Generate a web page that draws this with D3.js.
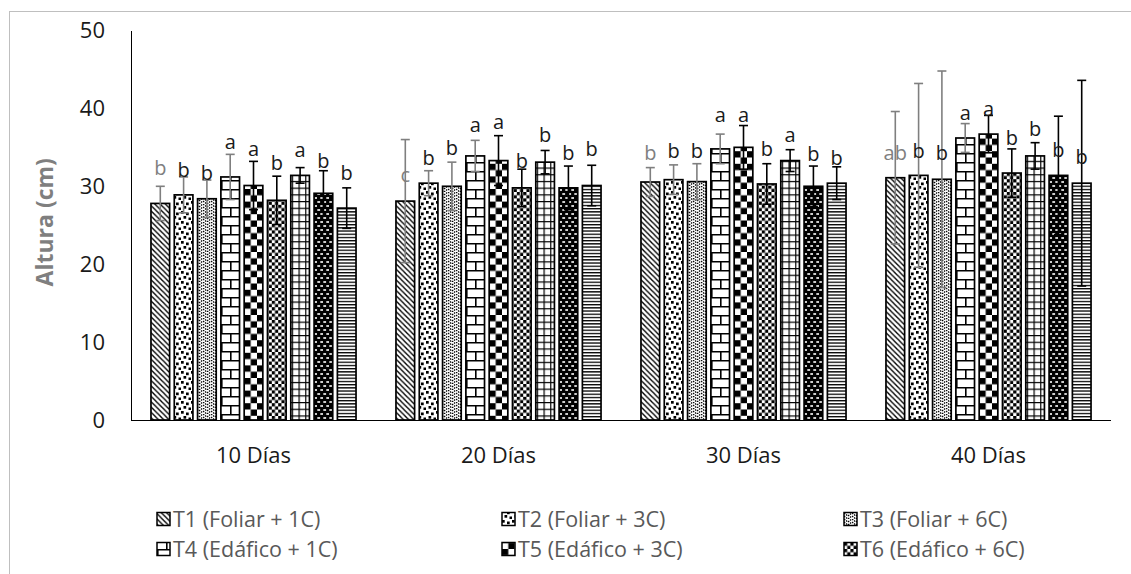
<!DOCTYPE html>
<html>
<head>
<meta charset="utf-8">
<script src="https://cdn.jsdelivr.net/npm/d3@7"></script>
<style>
  body { margin: 0; background: #fff; }
  svg { display: block; }
  text { font-family: "Open Sans", Lato, "Noto Sans", sans-serif; }
</style>
</head>
<body>
<svg id="chart" width="1131" height="574"></svg>
<script>
// Sampling dates (x categories)
const days = ["10 Días", "20 Días", "30 Días", "40 Días"];

// Treatments (series)
const treatments = [
  "T1 (Foliar + 1C)", "T2 (Foliar + 3C)", "T3 (Foliar + 6C)",
  "T4 (Edáfico + 1C)", "T5 (Edáfico + 3C)", "T6 (Edáfico + 6C)",
  "T7", "T8", "T9"
];

// Mean plant height (cm) for T1..T9 at each date
const height10 = [27.8, 28.9, 28.4, 31.2, 30.1, 28.2, 31.4, 29.1, 27.2];
const height20 = [28.1, 30.4, 30.0, 33.9, 33.3, 29.8, 33.1, 29.8, 30.1];
const height30 = [30.55, 30.85, 30.6, 34.8, 35.0, 30.3, 33.3, 30.0, 30.4];
const height40 = [31.1, 31.4, 30.9, 36.2, 36.7, 31.7, 33.9, 31.4, 30.4];

// Standard deviation (cm)
const sd10 = [2.2, 2.3, 2.4, 2.9, 3.1, 3.1, 1.0, 2.9, 2.6];
const sd20 = [7.9, 1.6, 3.1, 2.0, 3.2, 2.4, 1.5, 2.8, 2.6];
const sd30 = [1.85, 1.9, 2.3, 1.9, 2.8, 2.6, 1.4, 2.6, 2.1];
const sd40 = [8.5, 11.8, 13.9, 1.85, 2.4, 3.1, 1.7, 7.6, 13.2];

// Mean separation letters
const letters10 = ["b", "b", "b", "a", "a", "b", "a", "b", "b"];
const letters20 = ["c", "b", "b", "a", "a", "b", "b", "b", "b"];
const letters30 = ["b", "b", "b", "a", "a", "b", "a", "b", "b"];
const letters40 = ["ab", "b", "b", "a", "a", "b", "b", "b", "b"];

// Height (cm) at which each letter sits
const letterAt10 = [32.4, 32.1, 31.7, 35.7, 34.8, 33.0, 34.7, 33.2, 31.7];
const letterAt20 = [31.5, 33.6, 34.9, 37.9, 38.2, 33.2, 36.6, 34.3, 34.8];
const letterAt30 = [34.3, 34.5, 34.5, 39.2, 39.2, 34.8, 36.6, 34.1, 33.6];
const letterAt40 = [34.3, 34.5, 34.3, 39.4, 39.9, 36.2, 37.3, 34.6, 33.8];

const yTicks = [0, 10, 20, 30, 40, 50];

const heights = [height10, height20, height30, height40];
const sds = [sd10, sd20, sd30, sd40];
const letters = [letters10, letters20, letters30, letters40];
const letterAt = [letterAt10, letterAt20, letterAt30, letterAt40];

const rows = [];
days.forEach((d, di) => {
  treatments.forEach((t, ti) => {
    rows.push({
      day: d, trt: t, ti,
      mean: heights[di][ti], sd: sds[di][ti],
      letter: letters[di][ti], letterAt: letterAt[di][ti]
    });
  });
});

const svg = d3.select("#chart");
const plot = { left: 131, right: 1111, top: 30.5, bottom: 420 };

// chart frame
svg.append("rect")
  .attr("x", 9.5).attr("y", 11.5)
  .attr("width", 1300).attr("height", 800)
  .attr("fill", "none").attr("stroke", "#bfbfbf").attr("stroke-width", 1);

// ---- fill patterns for the treatments ----
const defs = svg.append("defs");
function makePattern(id, w, h, bg, draw) {
  const p = defs.append("pattern")
    .attr("id", id).attr("patternUnits", "userSpaceOnUse")
    .attr("width", w).attr("height", h);
  p.append("rect").attr("width", w).attr("height", h).attr("fill", bg);
  draw(p);
}
// T1: downward diagonal
makePattern("p0", 5.3, 5.3, "#fff", p => p.append("path")
  .attr("d", "M0,0 L5.3,5.3 M-1,4.3 L1,6.3 M4.3,-1 L6.3,1")
  .attr("stroke", "#000").attr("stroke-width", 1.4));
// T2: confetti
makePattern("p1", 10, 10, "#fff", p => {
  [[0, 1], [5, 2.5], [2.5, 6], [7.5, 7.5]].forEach(([x, y]) =>
    p.append("rect").attr("x", x).attr("y", y).attr("width", 2.7).attr("height", 2.7).attr("fill", "#000"));
});
// T3: dotted zigzag
makePattern("p2", 8, 6, "#fff", p => p.append("path")
  .attr("d", "M0,0 L4,3 L8,0 M0,3 L4,6 L8,3")
  .attr("fill", "none").attr("stroke", "#000").attr("stroke-width", 1.3)
  .attr("stroke-dasharray", "1.5 1"));
// T4: horizontal brick
makePattern("p3", 18, 18, "#fff", p => p.append("path")
  .attr("d", "M0,0.8 H18 M0,9.8 H18 M0.8,0 V9 M9.8,9 V18")
  .attr("stroke", "#000").attr("stroke-width", 1.6));
// T5: large checkerboard
makePattern("p4", 12.6, 12.6, "#fff", p => {
  p.append("rect").attr("x", 0).attr("y", 0).attr("width", 6.3).attr("height", 6.3).attr("fill", "#000");
  p.append("rect").attr("x", 6.3).attr("y", 6.3).attr("width", 6.3).attr("height", 6.3).attr("fill", "#000");
});
// T6: small checkerboard
makePattern("p5", 6.4, 6.4, "#fff", p => {
  p.append("rect").attr("x", 0).attr("y", 0).attr("width", 3.2).attr("height", 3.2).attr("fill", "#000");
  p.append("rect").attr("x", 3.2).attr("y", 3.2).attr("width", 3.2).attr("height", 3.2).attr("fill", "#000");
});
// T7: large grid
makePattern("p6", 6.7, 6.7, "#fff", p => p.append("path")
  .attr("d", "M0.6,0 V6.7 M0,0.6 H6.7")
  .attr("stroke", "#000").attr("stroke-width", 1.2));
// T8: dark with light dashes
makePattern("p7", 6, 8, "#000", p => {
  p.append("rect").attr("x", 0.3).attr("y", 1.2).attr("width", 2.8).attr("height", 1.6).attr("fill", "#fff");
  p.append("rect").attr("x", 3.3).attr("y", 5.2).attr("width", 2.8).attr("height", 1.6).attr("fill", "#fff");
});
// T9: narrow horizontal lines
makePattern("p8", 3.2, 3.2, "#fff", p => p.append("rect")
  .attr("x", 0).attr("y", 0).attr("width", 3.2).attr("height", 1.3).attr("fill", "#000"));

const fillFor = i => `url(#p${i})`;

// ---- scales ----
const x0 = d3.scaleBand().domain(days).range([plot.left, plot.right]).padding(0);
const x1 = d3.scaleBand().domain(treatments).range([0, x0.bandwidth()])
  .paddingInner(0.2).paddingOuter(0.857);
const y = d3.scaleLinear().domain([0, 50]).range([plot.bottom, plot.top]);

// ---- axes ----
const yAxis = svg.append("g")
  .attr("transform", `translate(${plot.left},0)`)
  .call(d3.axisLeft(y).tickValues(yTicks).tickSize(0).tickPadding(26));
yAxis.select(".domain").attr("stroke", "#000").attr("stroke-width", 1);
yAxis.selectAll("text").attr("font-size", 22).attr("fill", "#1a1a1a")
  .attr("font-family", "'Open Sans', Lato, sans-serif");

svg.append("text")
  .attr("transform", `translate(53,${(plot.top + plot.bottom) / 2 - 3}) rotate(-90)`)
  .attr("text-anchor", "middle")
  .attr("font-size", 23).attr("font-weight", "bold").attr("fill", "#7f7f7f")
  .text("Altura (cm)");

// ---- bars ----
const groups = svg.append("g").selectAll("g").data(days).join("g")
  .attr("transform", d => `translate(${x0(d)},0)`);

groups.selectAll("rect.bar")
  .data(d => rows.filter(r => r.day === d))
  .join("rect").attr("class", "bar")
  .attr("x", r => x1(r.trt))
  .attr("width", x1.bandwidth())
  .attr("y", r => y(r.mean))
  .attr("height", r => y(0) - y(r.mean))
  .attr("fill", r => fillFor(r.ti))
  .attr("stroke", "#000").attr("stroke-width", 1.7);

// ---- error bars ----
const errColor = r => r.ti < 4 ? "#7f7f7f" : "#000";
const cap = 4.5;
const eb = groups.selectAll("g.err")
  .data(d => rows.filter(r => r.day === d))
  .join("g").attr("class", "err")
  .attr("stroke", errColor).attr("stroke-width", 1.6);
eb.append("line")
  .attr("x1", r => x1(r.trt) + x1.bandwidth() / 2)
  .attr("x2", r => x1(r.trt) + x1.bandwidth() / 2)
  .attr("y1", r => y(r.mean - r.sd)).attr("y2", r => y(r.mean + r.sd));
eb.append("line")
  .attr("x1", r => x1(r.trt) + x1.bandwidth() / 2 - cap)
  .attr("x2", r => x1(r.trt) + x1.bandwidth() / 2 + cap)
  .attr("y1", r => y(r.mean + r.sd)).attr("y2", r => y(r.mean + r.sd));
eb.append("line")
  .attr("x1", r => x1(r.trt) + x1.bandwidth() / 2 - cap)
  .attr("x2", r => x1(r.trt) + x1.bandwidth() / 2 + cap)
  .attr("y1", r => y(r.mean - r.sd)).attr("y2", r => y(r.mean - r.sd));

// ---- letters ----
groups.selectAll("text.letter")
  .data(d => rows.filter(r => r.day === d))
  .join("text").attr("class", "letter")
  .attr("x", r => x1(r.trt) + x1.bandwidth() / 2)
  .attr("y", r => y(r.letterAt))
  .attr("dy", "0.35em")
  .attr("text-anchor", "middle")
  .attr("font-size", 20)
  .attr("fill", r => r.ti === 0 ? "#7f7f7f" : "#1a1a1a")
  .text(r => r.letter);

// ---- x axis ----
svg.append("line")
  .attr("x1", plot.left).attr("x2", plot.right)
  .attr("y1", plot.bottom + 0.5).attr("y2", plot.bottom + 0.5)
  .attr("stroke", "#000").attr("stroke-width", 1);

svg.append("g").selectAll("text").data(days).join("text")
  .attr("x", d => x0(d) + x0.bandwidth() / 2)
  .attr("y", 455).attr("dy", "0.35em")
  .attr("text-anchor", "middle")
  .attr("font-size", 22).attr("fill", "#1a1a1a")
  .text(d => d);

// ---- legend (first two rows fit in the frame) ----
const legCols = [157, 502, 844];
const legRows = [519, 549];
const legendItems = treatments.slice(0, 6);
const leg = svg.append("g").selectAll("g").data(legendItems).join("g")
  .attr("transform", (d, i) => `translate(${legCols[i % 3]},${legRows[Math.floor(i / 3)]})`);
leg.append("rect")
  .attr("x", 0).attr("y", -6.5).attr("width", 13).attr("height", 13)
  .attr("fill", (d, i) => fillFor(i))
  .attr("stroke", "#000").attr("stroke-width", 1.5);
leg.append("text")
  .attr("x", 16).attr("dy", "0.35em")
  .attr("font-size", 21.5).attr("fill", "#595959")
  .text(d => d);
</script>
</body>
</html>
